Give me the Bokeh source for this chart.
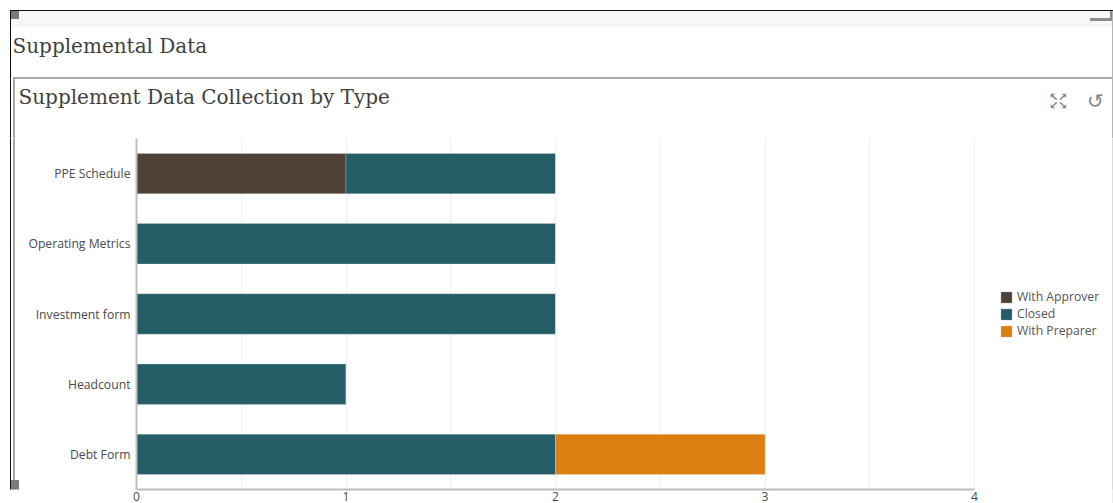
from bokeh.plotting import figure
from bokeh.layouts import column, row
from bokeh.models import (BoxAnnotation, Label, Legend, LegendItem, FixedTicker, FactorRange,
                          Range1d, ColumnDataSource)
from bokeh.embed import file_html
from bokeh.resources import INLINE

categories = ["Debt Form", "Headcount", "Investment form", "Operating Metrics", "PPE Schedule"]
series_names = ["With Approver", "Closed", "With Preparer"]
with_approver = [0, 0, 0, 0, 1]
closed = [2, 1, 2, 2, 1]
with_preparer = [1, 0, 0, 0, 0]
colors = ["#4f4238", "#255e66", "#dd7e12"]
x_ticks = [0, 1, 2, 3, 4]
x_minor = [0.5, 1.5, 2.5, 3.5]
page_title = "Supplemental Data"
chart_title = "Supplement Data Collection by Type"

W, H = 1113, 503
HEAD = 138      # height of the header strip
LEFT = 20       # width of the left strip
RIGHT = 1       # width of the right edge


def blank(width, height, fill="white"):
    f = figure(width=width, height=height, output_backend="svg", toolbar_location=None, tools="",
               x_range=Range1d(0, width), y_range=Range1d(0, height),
               min_border=0, min_border_left=0, min_border_right=0,
               min_border_top=0, min_border_bottom=0)
    f.axis.visible = False
    f.grid.visible = False
    f.outline_line_color = None
    f.background_fill_color = fill
    f.border_fill_color = fill
    return f


def box(f, x0, y0, x1, y1, color):
    f.add_layout(BoxAnnotation(left=x0 - 0.5, right=x1 - 0.5, top=y0 - 0.5, bottom=y1 - 0.5,
                               left_units="canvas", right_units="canvas",
                               top_units="canvas", bottom_units="canvas",
                               fill_color=color, fill_alpha=1, line_color=None))


def label(f, x, y, text, font, size, color, align="left", style="normal"):
    f.add_layout(Label(x=x, y=y, x_units="canvas", y_units="canvas", text=text,
                       text_font=font, text_font_size=size, text_color=color,
                       text_align=align, text_baseline="middle", text_font_style=style))


# header
head = blank(W, HEAD)
box(head, 10, 10, 1113, 11, "#111111")
box(head, 10, 11, 11, HEAD + 1, "#111111")
box(head, 11, 11, 1112, 27, "#f8f7f5")
box(head, 13, 77, 1113, 79, "#a8a8a8")
box(head, 13, 79, 15, HEAD + 1, "#a8a8a8")
box(head, 1112, 11, 1114, HEAD + 1, "#b5b5b5")
box(head, 11, 11, 19, 19, "#7a7a7a")
box(head, 1090, 18, 1112, 21, "#8c8c8c")
box(head, 1110, 11, 1112, 21, "#8c8c8c")
label(head, 12, 45, page_title, "DejaVu Serif", "20px", "#3f3f3f")
label(head, 18, 96, chart_title, "DejaVu Serif", "20px", "#3f3f3f")
for x, y, t in [(1053, 97, "↖"), (1062, 97, "↗"), (1053, 105, "↙"), (1062, 105, "↘")]:
    label(head, x, y, t, "DejaVu Sans", "11px", "#7d8487", "center", "bold")
label(head, 1095, 100, "↺", "DejaVu Sans", "20px", "#7d8487", "center")

# left strip
left = blank(LEFT, H - HEAD)
box(left, 10, 0, 11, H - HEAD + 1, "#111111")
box(left, 13, 0, 15, H - HEAD + 1, "#a8a8a8")
box(left, 11, 480 - HEAD, 19, 490 - HEAD, "#7a7a7a")

# right edge
right = blank(RIGHT, H - HEAD, "#b5b5b5")

# chart: the frame runs on to the right edge so that the legend can sit in it
chart_w = W - LEFT - RIGHT
x_end = 4 * (W - RIGHT - 136) / (974 - 136)
p = figure(width=chart_w, height=H - HEAD, output_backend="svg", toolbar_location=None, tools="",
           y_range=FactorRange(factors=categories, range_padding=0, factor_padding=0),
           x_range=Range1d(0, x_end),
           min_border_left=136 - LEFT, min_border_right=0,
           min_border_top=0, min_border_bottom=H - 489)
p.outline_line_color = None
p.background_fill_color = "white"
p.border_fill_color = "white"

src = ColumnDataSource(dict(cat=categories, a=with_approver, c=closed, w=with_preparer))
rs = p.hbar_stack(["a", "c", "w"], y="cat", height=0.575, source=src, color=colors,
                  line_color="white", line_alpha=0.22, line_width=1)

p.xaxis.ticker = FixedTicker(ticks=x_ticks, minor_ticks=x_minor)
p.xaxis.bounds = (0, 4)
p.xgrid.ticker = FixedTicker(ticks=x_ticks, minor_ticks=x_minor)
p.xgrid.grid_line_color = "#eff0f3"
p.xgrid.minor_grid_line_color = "#eff0f3"
p.xgrid.grid_line_width = 1
p.ygrid.grid_line_color = None
for ax in (p.xaxis[0], p.yaxis[0]):
    ax.axis_line_color = "#bdbdbd"
    ax.axis_line_width = 2
    ax.major_tick_line_color = None
    ax.minor_tick_line_color = None
    ax.major_tick_out = 0
    ax.major_tick_in = 0
    ax.minor_tick_out = 0
    ax.major_label_text_font = "Open Sans"
    ax.major_label_text_font_size = "12.2px"
    ax.major_label_text_color = "#4a4a4a"
p.xaxis.major_label_standoff = 2
p.yaxis.major_label_standoff = 6

legend = Legend(items=[LegendItem(label=n, renderers=[r]) for n, r in zip(series_names, rs)],
                location=(863, 150), orientation="vertical")
legend.background_fill_alpha = 0
legend.border_line_color = None
legend.label_text_font = "Open Sans"
legend.label_text_font_size = "12.2px"
legend.label_text_color = "#555555"
legend.glyph_width = 14
legend.glyph_height = 14
legend.label_standoff = 4
legend.spacing = -1
legend.padding = 0
legend.margin = 0
legend.label_height = 12
p.add_layout(legend, "center")

page = column(head, row(left, p, right, spacing=0), spacing=0)
open("out.html", "w").write(file_html(page, INLINE))
